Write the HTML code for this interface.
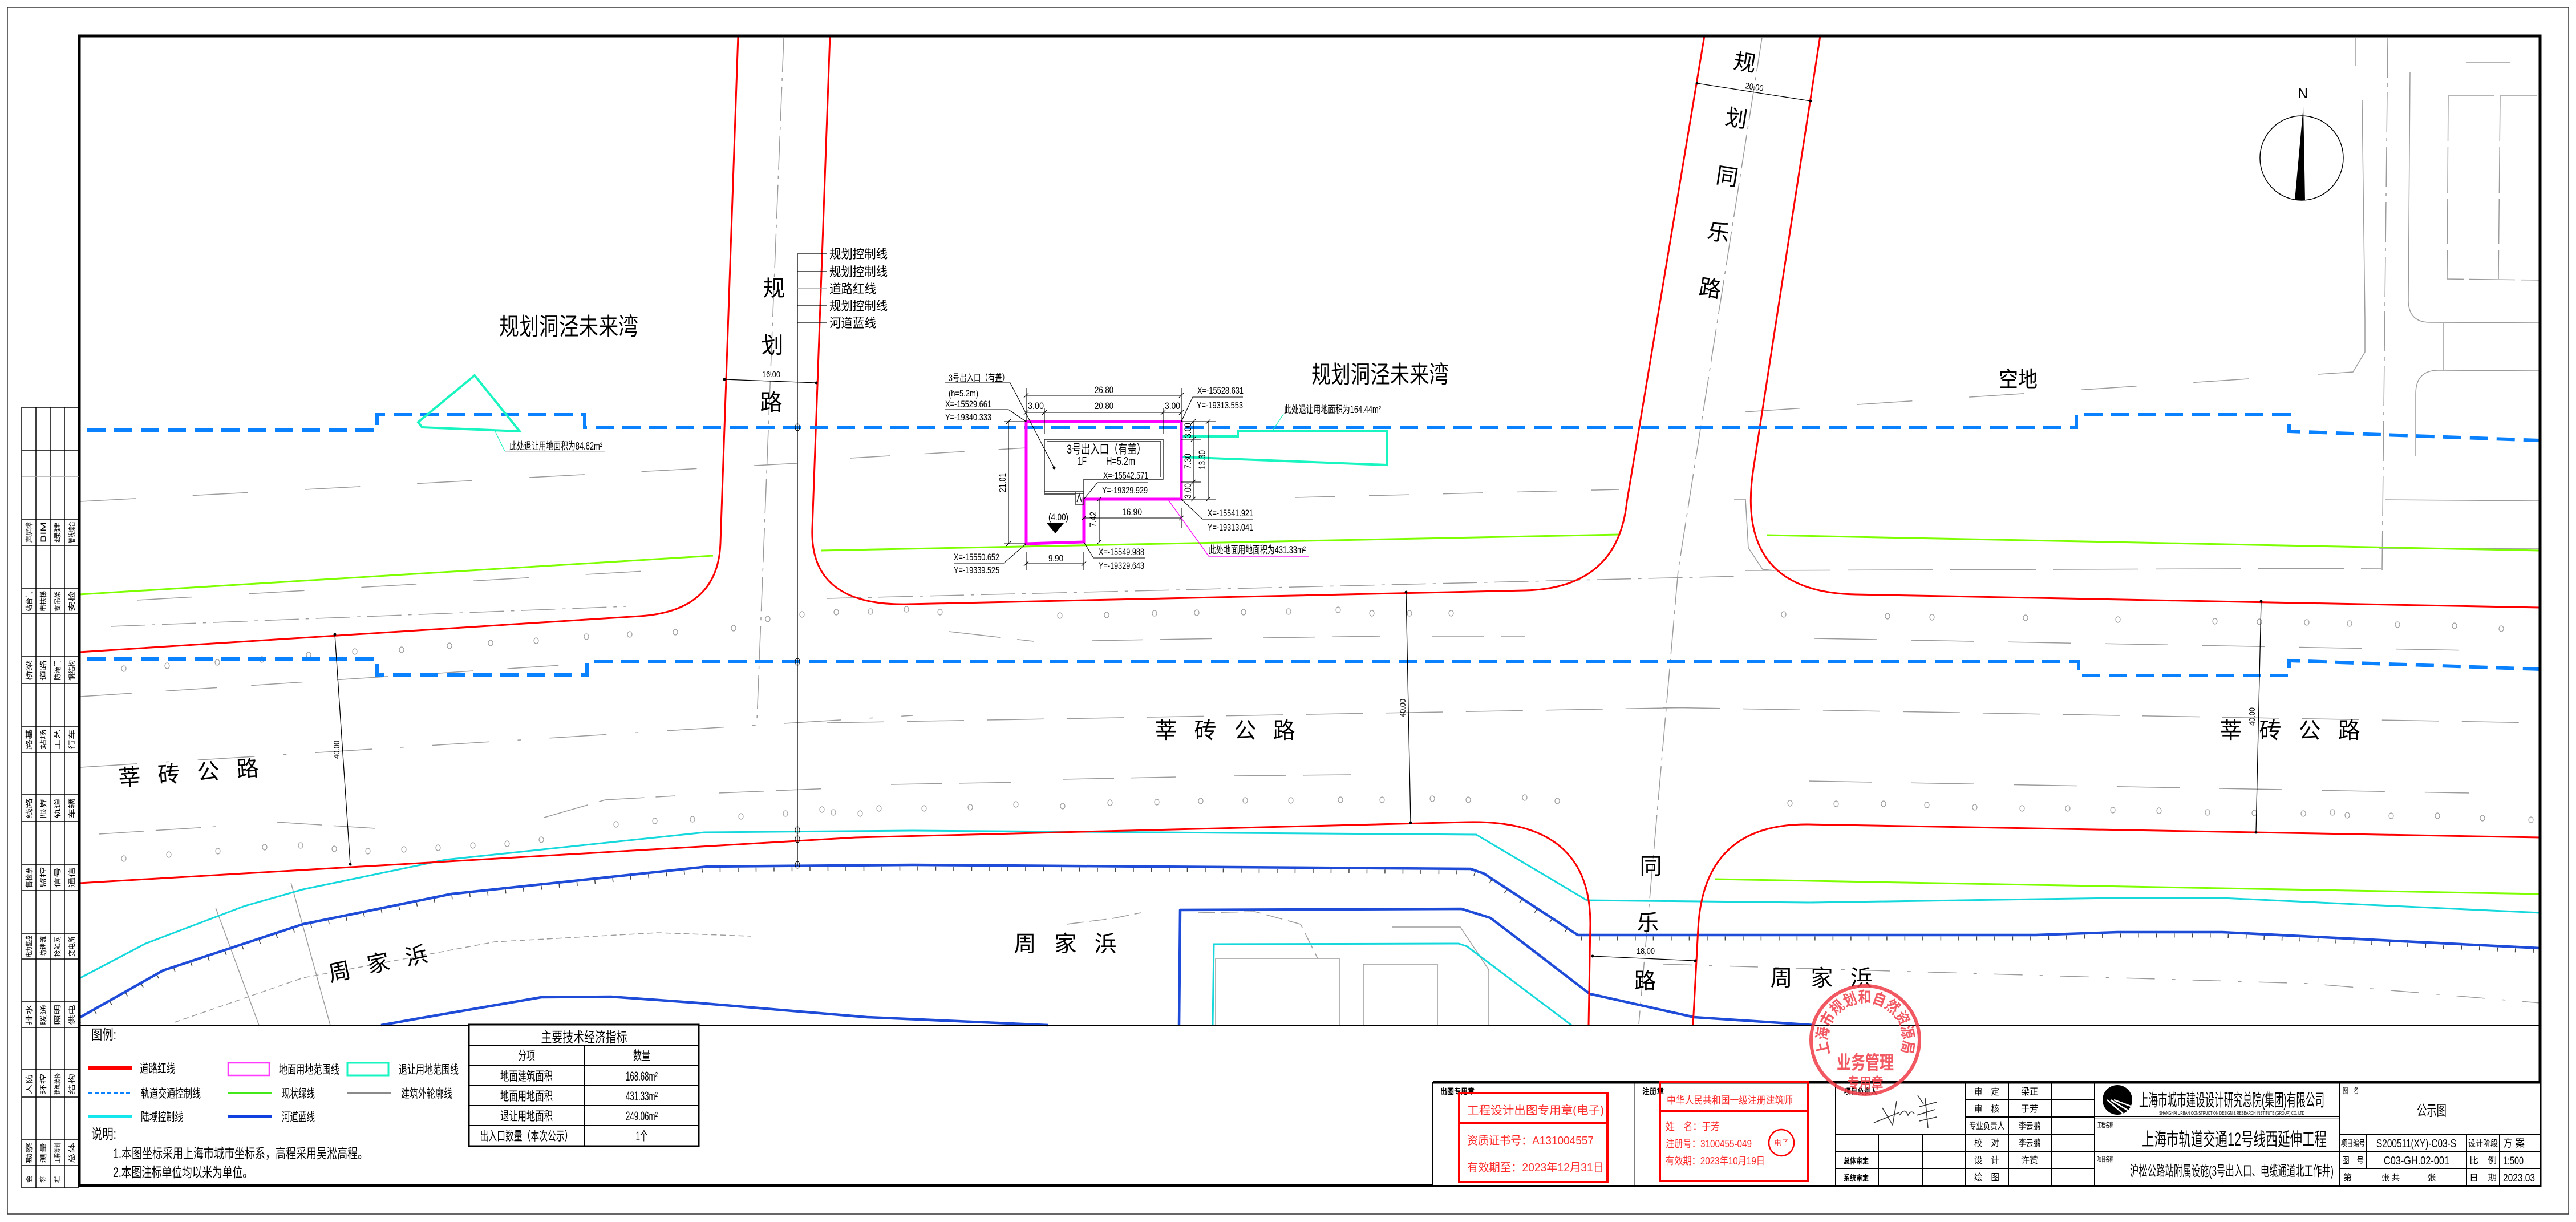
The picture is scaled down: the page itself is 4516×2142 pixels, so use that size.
<!DOCTYPE html>
<html><head><meta charset="utf-8">
<style>
html,body{margin:0;padding:0;background:#fff;}
svg{display:block;}
text{font-family:"Liberation Sans","Noto Sans CJK SC",sans-serif;fill:#000;}
</style></head><body>
<svg width="4516" height="2142" viewBox="0 0 4516 2142" xmlns="http://www.w3.org/2000/svg">
<rect width="4516" height="2142" fill="#fff"/>

<!-- ===== gray background detail ===== -->
<g stroke="#9c9c9c" stroke-width="1.5" fill="none">
  <path d="M1374,66 L1327,1262" stroke-dasharray="60 10 6 10"/>
  <path d="M3089,66 L2942,1000 L2873,1795" stroke-dasharray="60 10 6 10"/>
  <path d="M141,879 L1398,812" stroke-dasharray="97 100"/>
  <path d="M240,1052 L1148,1000" stroke-dasharray="97 100"/>
  <path d="M194,1098 L1097,1063" stroke-dasharray="60 12 6 12"/>
  <path d="M1450,1049 L3050,1010" stroke-dasharray="60 12 6 12"/>
  <path d="M1491,803 L1800,785" stroke-dasharray="70 60"/>
  <path d="M2270,872 L2838,858" stroke-dasharray="70 60"/>
  <path d="M3059,722 L3957,663" stroke-dasharray="97 100"/>
  <path d="M3059,1000 L4174,996" stroke-dasharray="150 30"/>
  <path d="M141,1221 L1029,1163" stroke-dasharray="90 60"/>
  <path d="M1664,1107 L1812,1124 M1914,1123 L2144,1119 M2215,1118 L2419,1115 M2511,1115 L2674,1115" stroke-dasharray="90 30"/>
  <path d="M3181,1119 L4334,1140" stroke-dasharray="110 60"/>
  <path d="M141,1345 L1600,1254" stroke-dasharray="100 50 6 50"/>
  <path d="M1450,1267 L2980,1240" stroke-dasharray="100 40"/>
  <path d="M2916,1240 L4453,1267" stroke-dasharray="100 40"/>
  <path d="M173,1462 L378,1449 M485,1441 L658,1452 M954,1433 L1061,1402 L1184,1395 M1260,1390 L1454,1382" stroke-dasharray="80 20"/>
  <path d="M1562,1375 L1792,1371 M1863,1366 L2062,1362 M2164,1360 L2368,1358" stroke-dasharray="90 30"/>
  <path d="M3171,1369 L4329,1390" stroke-dasharray="110 70"/>
  <path d="M306,1792 L531,1714 L867,1651 L1153,1635 L1316,1641" stroke-dasharray="10 6"/>
  <path d="M2916,1690 L4049,1724 L4453,1758" stroke-dasharray="50 30 6 30"/>
  <path d="M378,1591 L454,1797 M510,1547 L579,1797"/>
  <path d="M2131,1797 L2131,1680 L2348,1680 L2348,1797 M2390,1797 L2390,1690 L2520,1690 L2520,1797 M2440,1625 L2560,1625 L2610,1700 L2610,1797"/>
  <path d="M1870,1620 L1950,1610 L2000,1600 M2100,1600 L2200,1598 L2280,1620 L2310,1680" stroke-dasharray="30 10"/>
  <path d="M4186,66 L4176,1000" stroke-dasharray="70 10 6 10"/>
  <path d="M4130,66 L4130,115 M4141,175 L4146,560 L4146,617 L4125,652 L4064,656"/>
  <path d="M4292,168 L4447,168 M4292,168 L4290,489 L4452,491 M4383,168 L4380,489" stroke-dasharray="80 10"/>
  <path d="M4225,126 L4222,526 Q4222,565 4260,565 L4452,566"/>
  <path d="M4324,109 L4401,109"/>
  <path d="M4284,566 L4284,649 M4452,650 L4275,649 Q4235,649 4235,690 L4235,800"/>
  <path d="M4181,876 L4452,878 M4171,961 L4452,962"/>
  <path d="M3040,875 L3060,875 L3065,960 L3090,998 L3110,1000"/>
</g>
<!-- small ovals -->
<g stroke="#9a9a9a" stroke-width="1.2" fill="none">
<ellipse cx="217" cy="1172" rx="4" ry="5"/><ellipse cx="293" cy="1167" rx="4" ry="5"/><ellipse cx="381" cy="1161" rx="4" ry="5"/><ellipse cx="459" cy="1156" rx="4" ry="5"/><ellipse cx="541" cy="1148" rx="4" ry="5"/><ellipse cx="622" cy="1142" rx="4" ry="5"/><ellipse cx="704" cy="1139" rx="4" ry="5"/><ellipse cx="788" cy="1132" rx="4" ry="5"/><ellipse cx="860" cy="1127" rx="4" ry="5"/><ellipse cx="940" cy="1123" rx="4" ry="5"/><ellipse cx="1028" cy="1116" rx="4" ry="5"/><ellipse cx="1104" cy="1112" rx="4" ry="5"/><ellipse cx="1184" cy="1108" rx="4" ry="5"/><ellipse cx="1286" cy="1101" rx="4" ry="5"/><ellipse cx="1346" cy="1085" rx="4" ry="5"/><ellipse cx="1406" cy="1077" rx="4" ry="5"/><ellipse cx="1466" cy="1073" rx="4" ry="5"/><ellipse cx="1526" cy="1072" rx="4" ry="5"/><ellipse cx="1589" cy="1068" rx="4" ry="5"/><ellipse cx="1648" cy="1073" rx="4" ry="5"/><ellipse cx="1858" cy="1079" rx="4" ry="5"/><ellipse cx="1940" cy="1078" rx="4" ry="5"/><ellipse cx="2024" cy="1075" rx="4" ry="5"/><ellipse cx="2098" cy="1074" rx="4" ry="5"/><ellipse cx="2180" cy="1073" rx="4" ry="5"/><ellipse cx="2259" cy="1072" rx="4" ry="5"/><ellipse cx="2346" cy="1069" rx="4" ry="5"/><ellipse cx="2405" cy="1075" rx="4" ry="5"/><ellipse cx="2471" cy="1075" rx="4" ry="5"/><ellipse cx="2544" cy="1075" rx="4" ry="5"/><ellipse cx="3127" cy="1077" rx="4" ry="5"/><ellipse cx="3309" cy="1080" rx="4" ry="5"/><ellipse cx="3387" cy="1082" rx="4" ry="5"/><ellipse cx="3551" cy="1083" rx="4" ry="5"/><ellipse cx="3713" cy="1086" rx="4" ry="5"/><ellipse cx="3883" cy="1089" rx="4" ry="5"/><ellipse cx="3961" cy="1090" rx="4" ry="5"/><ellipse cx="4044" cy="1091" rx="4" ry="5"/><ellipse cx="4119" cy="1093" rx="4" ry="5"/><ellipse cx="4203" cy="1095" rx="4" ry="5"/><ellipse cx="4303" cy="1097" rx="4" ry="5"/><ellipse cx="4385" cy="1102" rx="4" ry="5"/>
<ellipse cx="217" cy="1505" rx="4" ry="5"/><ellipse cx="296" cy="1498" rx="4" ry="5"/><ellipse cx="382" cy="1492" rx="4" ry="5"/><ellipse cx="464" cy="1485" rx="4" ry="5"/><ellipse cx="527" cy="1482" rx="4" ry="5"/><ellipse cx="586" cy="1488" rx="4" ry="5"/><ellipse cx="645" cy="1492" rx="4" ry="5"/><ellipse cx="708" cy="1489" rx="4" ry="5"/><ellipse cx="768" cy="1486" rx="4" ry="5"/><ellipse cx="829" cy="1482" rx="4" ry="5"/><ellipse cx="889" cy="1479" rx="4" ry="5"/><ellipse cx="949" cy="1472" rx="4" ry="5"/><ellipse cx="1080" cy="1445" rx="4" ry="5"/><ellipse cx="1148" cy="1439" rx="4" ry="5"/><ellipse cx="1214" cy="1436" rx="4" ry="5"/><ellipse cx="1299" cy="1431" rx="4" ry="5"/><ellipse cx="1377" cy="1426" rx="4" ry="5"/><ellipse cx="1441" cy="1419" rx="4" ry="5"/><ellipse cx="1461" cy="1424" rx="4" ry="5"/><ellipse cx="1508" cy="1426" rx="4" ry="5"/><ellipse cx="1541" cy="1417" rx="4" ry="5"/><ellipse cx="1620" cy="1417" rx="4" ry="5"/><ellipse cx="1701" cy="1415" rx="4" ry="5"/><ellipse cx="1781" cy="1410" rx="4" ry="5"/><ellipse cx="1863" cy="1413" rx="4" ry="5"/><ellipse cx="1946" cy="1407" rx="4" ry="5"/><ellipse cx="2028" cy="1406" rx="4" ry="5"/><ellipse cx="2105" cy="1404" rx="4" ry="5"/><ellipse cx="2183" cy="1403" rx="4" ry="5"/><ellipse cx="2263" cy="1403" rx="4" ry="5"/><ellipse cx="2350" cy="1402" rx="4" ry="5"/><ellipse cx="2423" cy="1402" rx="4" ry="5"/><ellipse cx="2511" cy="1400" rx="4" ry="5"/><ellipse cx="2574" cy="1402" rx="4" ry="5"/><ellipse cx="2673" cy="1398" rx="4" ry="5"/><ellipse cx="2730" cy="1404" rx="4" ry="5"/><ellipse cx="3138" cy="1408" rx="4" ry="5"/><ellipse cx="3219" cy="1409" rx="4" ry="5"/><ellipse cx="3302" cy="1409" rx="4" ry="5"/><ellipse cx="3378" cy="1411" rx="4" ry="5"/><ellipse cx="3462" cy="1415" rx="4" ry="5"/><ellipse cx="3545" cy="1417" rx="4" ry="5"/><ellipse cx="3625" cy="1417" rx="4" ry="5"/><ellipse cx="3704" cy="1420" rx="4" ry="5"/><ellipse cx="3785" cy="1421" rx="4" ry="5"/><ellipse cx="3870" cy="1424" rx="4" ry="5"/><ellipse cx="3952" cy="1425" rx="4" ry="5"/><ellipse cx="4038" cy="1426" rx="4" ry="5"/><ellipse cx="4089" cy="1424" rx="4" ry="5"/><ellipse cx="4115" cy="1429" rx="4" ry="5"/><ellipse cx="4192" cy="1430" rx="4" ry="5"/><ellipse cx="4273" cy="1430" rx="4" ry="5"/><ellipse cx="4352" cy="1434" rx="4" ry="5"/><ellipse cx="4437" cy="1437" rx="4" ry="5"/>
</g>

<!-- ===== colored plan lines ===== -->
<g stroke="#7dff00" stroke-width="3" fill="none">
  <path d="M139,1042 L1250,974"/>
  <path d="M1439,965 L2838,937"/>
  <path d="M3098,938 L4453,965"/>
  <path d="M3006,1541 L4453,1567"/>
</g>
<g stroke="#14d8dc" stroke-width="3" fill="none">
  <path d="M139,1715 L255,1654 L429,1588 L531,1559 L781,1507 L1235,1459 L1600,1456 L2588,1463 L2782,1578 L3171,1582 L3712,1574 L3896,1574 L4453,1600"/>
  <path d="M2126,1797 L2128,1655 L2557,1654 L2572,1659 L2755,1797"/>
</g>
<g stroke="#1e4bd8" stroke-width="4.5" fill="none" stroke-linejoin="round">
  <path d="M139,1784 L286,1701 L531,1620 L791,1567 L1240,1519 L1600,1516 L2578,1523 L2601,1531 L2766,1639 L3569,1639 L3712,1634 L3896,1634 L4453,1662"/>
  <path d="M668,1797 L735,1785 L949,1748 L1071,1747 L1224,1758 L1520,1783 L1838,1797"/>
  <path d="M2067,1797 L2069,1595 L2562,1593 L2613,1609 L2787,1742 L2970,1783 L3181,1797"/>
</g>
<path d="M139,1790 L286,1707 L531,1626 L791,1573 L1240,1525 L1600,1522 L2578,1529 L2601,1537 L2766,1645 L3569,1645 L3712,1640 L3896,1640 L4453,1668" stroke="#444" stroke-width="7" fill="none" stroke-dasharray="1.5 30"/>
<g stroke="#ff0000" stroke-width="3" fill="none">
  <path d="M1294,63 L1263,952 Q1259,1071 1122,1080 L139,1143"/>
  <path d="M2988,63 L2852,880 Q2836,1031 2674,1035 L1592,1059 Q1419,1063 1424,926 L1455,63"/>
  <path d="M3191,63 L3074,821 Q3040,1038 3253,1042 L4453,1065"/>
  <path d="M139,1548 L1500,1468 L2572,1441 Q2789,1436 2788,1620 L2785,1797"/>
  <path d="M2968,1797 L2977,1628 Q2986,1443 3171,1445 L4453,1468"/>
</g>
<g stroke="#0a82ff" stroke-width="6" fill="none" stroke-dasharray="32 15">
  <path d="M153,754 H661 V727 H1025 V749 H3640 V727 H4013 V756 L4453,772"/>
  <path d="M153,1155 H661 V1183 H1029 V1160 H3644 V1184 H4013 V1158 L4453,1173"/>
</g>

<polygon points="832,658 733,740 740,749 911,756" fill="none" stroke="#19f5c0" stroke-width="4"/>
<path d="M867,754 L885,791" stroke="#19f5c0" stroke-width="1.2" fill="none"/>
<path d="M885,791 L1061,791" stroke="#aaa" stroke-width="1" fill="none"/>
<text x="893" y="788" font-size="18" textLength="163" lengthAdjust="spacingAndGlyphs">此处退让用地面积为84.62m²</text>

<!-- ===== black thin annotation lines ===== -->
<g stroke="#000" stroke-width="1.3" fill="none">
  <path d="M1398,445 L1398,1518"/>
  <path d="M1398,445 H1449 M1398,476 H1449 M1398,536 H1449 M1398,566 H1449"/>
  <path d="M1270,665 L1431,671"/>
  <path d="M2975,146 L3174,177"/>
  <path d="M2792,1676 L2972,1684"/>
  <path d="M587,1112 L614,1515"/>
  <path d="M2465,1038 L2473,1442"/>
  <path d="M3964,1054 L3955,1459"/>
</g>
<path d="M1398,506 H1449" stroke="#999" stroke-width="1.3"/>
<g fill="#000">
  <circle cx="1270" cy="665" r="2.5"/><circle cx="1431" cy="671" r="2.5"/>
  <circle cx="2975" cy="146" r="2.5"/><circle cx="3174" cy="177" r="2.5"/>
  <circle cx="2792" cy="1676" r="2.5"/><circle cx="2972" cy="1684" r="2.5"/>
  <circle cx="587" cy="1112" r="2.5"/><circle cx="614" cy="1515" r="2.5"/>
  <circle cx="2465" cy="1038" r="2.5"/><circle cx="2473" cy="1442" r="2.5"/>
  <circle cx="3964" cy="1054" r="2.5"/><circle cx="3955" cy="1459" r="2.5"/>
</g>
<g stroke="#000" stroke-width="1" fill="none">
  <ellipse cx="1398" cy="749" rx="4" ry="6"/><ellipse cx="1398" cy="1160" rx="4" ry="6"/>
  <ellipse cx="1398" cy="1455" rx="4" ry="6"/><ellipse cx="1398" cy="1471" rx="4" ry="6"/><ellipse cx="1398" cy="1516" rx="4" ry="6"/>
</g>
<g font-size="15">
  <text x="1336" y="661" textLength="32" lengthAdjust="spacingAndGlyphs">16.00</text>
  <text transform="translate(3059,155) rotate(9)" textLength="32" lengthAdjust="spacingAndGlyphs">20.00</text>
  <text x="2869" y="1672" textLength="32" lengthAdjust="spacingAndGlyphs">18.00</text>
  <text transform="translate(595,1330) rotate(-90)" textLength="32" lengthAdjust="spacingAndGlyphs">40.00</text>
  <text transform="translate(2464,1257) rotate(-90)" textLength="32" lengthAdjust="spacingAndGlyphs">40.00</text>
  <text transform="translate(3953,1272) rotate(-90)" textLength="32" lengthAdjust="spacingAndGlyphs">40.00</text>
</g>
<g font-size="22">
  <text x="1454" y="453" textLength="102" lengthAdjust="spacingAndGlyphs">规划控制线</text>
  <text x="1454" y="484" textLength="102" lengthAdjust="spacingAndGlyphs">规划控制线</text>
  <text x="1454" y="514" textLength="82" lengthAdjust="spacingAndGlyphs">道路红线</text>
  <text x="1454" y="544" textLength="102" lengthAdjust="spacingAndGlyphs">规划控制线</text>
  <text x="1454" y="574" textLength="82" lengthAdjust="spacingAndGlyphs">河道蓝线</text>
</g>

<!-- ===== entrance detail ===== -->
<polygon points="2071,801 2071,765 2170,765 2170,756 2431,756 2431,815" fill="none" stroke="#19f5c0" stroke-width="4"/>
<path d="M1799,739 L2071,739 L2071,875 L1900,875 L1900,950 L1799,953 Z" fill="none" stroke="#ff00ff" stroke-width="5"/>
<g stroke="#222" stroke-width="1.4" fill="none">
  <path d="M1831,770 H2039 V840 H1900 V865 H1831 Z"/>
  <path d="M1835,774 H2035 V836"/>
  <path d="M1831,862 H1885 M1831,867 H1885"/>
  <rect x="1885" y="862" width="15" height="22"/>
  <path d="M1888,880 L1892,866 L1896,880"/>
</g>
<g stroke="#000" stroke-width="1.1" fill="none">
  <path d="M1799,680 V739 M2071,680 V739 M1799,693 H2071 M1799,723 H2071 M1831,716 V760 M2039,716 V760"/>
  <path d="M1795,697 L1803,689 M2067,697 L2075,689 M1795,727 L1803,719 M1827,727 L1835,719 M2035,727 L2043,719 M2067,727 L2075,719"/>
  <path d="M1760,739 H1799 M1760,953 H1799 M1768,739 V953 M1764,743 L1772,735 M1764,957 L1772,949"/>
  <path d="M2071,739 H2131 M2071,770 H2105 M2071,845 H2105 M2071,875 H2131 M2092,739 V875 M2118,739 V875"/>
  <path d="M2088,743 L2096,735 M2088,774 L2096,766 M2088,849 L2096,841 M2088,879 L2096,871 M2114,743 L2122,735 M2114,879 L2122,871"/>
  <path d="M1900,908 H2071 M2071,890 V925 M1927,875 V950 M1799,988 H1900 M1799,968 V1000 M1900,968 V1000"/>
  <path d="M1896,912 L1904,904 M2067,912 L2075,904 M1923,879 L1931,871 M1923,954 L1931,946 M1795,992 L1803,984 M1896,992 L1904,984"/>
  <path d="M1657,671 H1771 L1848,820"/>
  <path d="M1657,718 H1768 L1799,739"/>
  <path d="M2179,696 H2091 L2071,739"/>
  <path d="M2071,875 L2108,910 H2197"/>
  <path d="M1672,987 H1760 L1799,953"/>
  <path d="M1900,950 L1917,978 H2008"/>
  <path d="M1900,875 L1924,846 H2012"/>
</g>
<circle cx="1848" cy="820" r="2.5" fill="#000"/>
<path d="M2048,876 L2119,975 H2295" stroke="#ff00ff" stroke-width="1.3" fill="none"/>
<path d="M2250,726 L2230,756" stroke="#19f5c0" stroke-width="1.2" fill="none"/>
<polygon points="1835,917 1865,917 1850,935" fill="#000"/>
<g font-size="17">
  <text x="1919" y="689" textLength="33" lengthAdjust="spacingAndGlyphs">26.80</text>
  <text x="1802" y="717" textLength="28" lengthAdjust="spacingAndGlyphs">3.00</text>
  <text x="1919" y="717" textLength="33" lengthAdjust="spacingAndGlyphs">20.80</text>
  <text x="2042" y="717" textLength="27" lengthAdjust="spacingAndGlyphs">3.00</text>
  <text transform="translate(1763,863) rotate(-90)" textLength="34" lengthAdjust="spacingAndGlyphs">21.01</text>
  <text transform="translate(2088,768) rotate(-90)" textLength="27" lengthAdjust="spacingAndGlyphs">3.00</text>
  <text transform="translate(2088,822) rotate(-90)" textLength="27" lengthAdjust="spacingAndGlyphs">7.30</text>
  <text transform="translate(2088,874) rotate(-90)" textLength="27" lengthAdjust="spacingAndGlyphs">3.00</text>
  <text transform="translate(2113,823) rotate(-90)" textLength="34" lengthAdjust="spacingAndGlyphs">13.30</text>
  <text x="1967" y="903" textLength="35" lengthAdjust="spacingAndGlyphs">16.90</text>
  <text transform="translate(1922,924) rotate(-90)" textLength="27" lengthAdjust="spacingAndGlyphs">7.42</text>
  <text x="1838" y="984" textLength="26" lengthAdjust="spacingAndGlyphs">9.90</text>
  <text x="1838" y="912" textLength="35" lengthAdjust="spacingAndGlyphs">(4.00)</text>
  <text x="1663" y="668" textLength="106" lengthAdjust="spacingAndGlyphs">3号出入口（有盖）</text>
  <text x="1663" y="695" textLength="52" lengthAdjust="spacingAndGlyphs">(h=5.2m)</text>
  <text x="1657" y="714" textLength="81" lengthAdjust="spacingAndGlyphs">X=-15529.661</text>
  <text x="1657" y="737" textLength="81" lengthAdjust="spacingAndGlyphs">Y=-19340.333</text>
  <text x="2099" y="690" textLength="81" lengthAdjust="spacingAndGlyphs">X=-15528.631</text>
  <text x="2098" y="716" textLength="81" lengthAdjust="spacingAndGlyphs">Y=-19313.553</text>
  <text x="2117" y="905" textLength="80" lengthAdjust="spacingAndGlyphs">X=-15541.921</text>
  <text x="2117" y="930" textLength="80" lengthAdjust="spacingAndGlyphs">Y=-19313.041</text>
  <text x="1672" y="982" textLength="80" lengthAdjust="spacingAndGlyphs">X=-15550.652</text>
  <text x="1672" y="1005" textLength="80" lengthAdjust="spacingAndGlyphs">Y=-19339.525</text>
  <text x="1926" y="973" textLength="80" lengthAdjust="spacingAndGlyphs">X=-15549.988</text>
  <text x="1926" y="997" textLength="80" lengthAdjust="spacingAndGlyphs">Y=-19329.643</text>
  <text x="1934" y="839" textLength="79" lengthAdjust="spacingAndGlyphs">X=-15542.571</text>
  <text x="1932" y="865" textLength="80" lengthAdjust="spacingAndGlyphs">Y=-19329.929</text>
</g>
<g font-size="18">
  <text x="2251" y="724" textLength="170" lengthAdjust="spacingAndGlyphs">此处退让用地面积为164.44m²</text>
  <text x="2119" y="970" textLength="170" lengthAdjust="spacingAndGlyphs">此处地面用地面积为431.33m²</text>
</g>
<text x="1870" y="795" font-size="22" textLength="139" lengthAdjust="spacingAndGlyphs">3号出入口（有盖）</text>
<text x="1889" y="815" font-size="20" textLength="16" lengthAdjust="spacingAndGlyphs">1F</text>
<text x="1939" y="815" font-size="20" textLength="51" lengthAdjust="spacingAndGlyphs">H=5.2m</text>

<!-- ===== big labels ===== -->
<text x="875" y="587" font-size="42" textLength="244" lengthAdjust="spacingAndGlyphs">规划洞泾未来湾</text>
<text x="2299" y="671" font-size="42" textLength="241" lengthAdjust="spacingAndGlyphs">规划洞泾未来湾</text>
<text x="3504" y="678" font-size="38" textLength="68" lengthAdjust="spacingAndGlyphs">空地</text>
<g font-size="39" text-anchor="middle">
  <text x="1357" y="519">规</text><text x="1354" y="619">划</text><text x="1352" y="719">路</text>
  <text transform="translate(3059,109) rotate(9)" y="14">规</text>
  <text transform="translate(3044,207) rotate(9)" y="14">划</text>
  <text transform="translate(3028,309) rotate(9)" y="14">同</text>
  <text transform="translate(3013,407) rotate(9)" y="14">乐</text>
  <text transform="translate(2998,505) rotate(9)" y="14">路</text>
  <text transform="translate(227,1362) rotate(-4)" y="14">莘</text>
  <text transform="translate(296,1357) rotate(-4)" y="14">砖</text>
  <text transform="translate(365,1352) rotate(-4)" y="14">公</text>
  <text transform="translate(434,1347) rotate(-4)" y="14">路</text>
  <text x="2044" y="1294">莘</text><text x="2113" y="1294">砖</text><text x="2183" y="1294">公</text><text x="2251" y="1294">路</text>
  <text x="3911" y="1294">莘</text><text x="3980" y="1294">砖</text><text x="4049" y="1294">公</text><text x="4118" y="1294">路</text>
  <text transform="translate(595,1703) rotate(-12)" y="14">周</text>
  <text transform="translate(663,1688) rotate(-12)" y="14">家</text>
  <text transform="translate(730,1675) rotate(-12)" y="14">浜</text>
  <text x="1797" y="1668">周</text><text x="1868" y="1668">家</text><text x="1938" y="1668">浜</text>
  <text x="3123" y="1728">周</text><text x="3194" y="1728">家</text><text x="3263" y="1728">浜</text>
  <text x="2894" y="1532">同</text><text x="2889" y="1631">乐</text><text x="2884" y="1733">路</text>
</g>

<ellipse cx="4035" cy="277" rx="73" ry="74" fill="none" stroke="#000" stroke-width="1.5"/>
<polygon points="4038,186 4041,351 4023,351" fill="#000"/>
<text x="4028" y="172" font-size="26" textLength="18" lengthAdjust="spacingAndGlyphs">N</text>

<!-- ===== frames ===== -->
<rect x="13" y="13" width="4490" height="2115" fill="none" stroke="#333" stroke-width="1.5"/>
<rect x="139" y="63" width="4314" height="2015" fill="none" stroke="#000" stroke-width="5"/>
<path d="M139,1797 H4453" stroke="#000" stroke-width="2"/>

<!-- left margin table -->
<g stroke="#000" stroke-width="1.5" fill="none">
  <path d="M38,714 H139 M38,714 V2082 H139 M63,714 V2082 M88,714 V2082 M113,714 V2082"/>
  <path d="M38,789 H139 M38,910 H139 M38,956 H139 M38,1031 H139 M38,1076 H139 M38,1151 H139 M38,1198 H139 M38,1273 H139 M38,1319 H139 M38,1393 H139 M38,1440 H139 M38,1515 H139 M38,1561 H139 M38,1636 H139 M38,1681 H139 M38,1756 H139 M38,1801 H139 M38,1875 H139 M38,1923 H139 M38,1997 H139 M38,2043 H139"/>
</g>
<path d="M38,835 H139" stroke="#aaa" stroke-width="1.5"/>
<g font-size="12" text-anchor="middle">
  <text transform="translate(55,933) rotate(-90)" textLength="36" lengthAdjust="spacingAndGlyphs">声屏障</text>
  <text transform="translate(80,933) rotate(-90)" textLength="36" lengthAdjust="spacingAndGlyphs">BIM</text>
  <text transform="translate(105,933) rotate(-90)" textLength="36" lengthAdjust="spacingAndGlyphs">绿建</text>
  <text transform="translate(130,933) rotate(-90)" textLength="38" lengthAdjust="spacingAndGlyphs">管线综合</text>
  <text transform="translate(55,1054) rotate(-90)" textLength="36" lengthAdjust="spacingAndGlyphs">站台门</text>
  <text transform="translate(80,1054) rotate(-90)" textLength="36" lengthAdjust="spacingAndGlyphs">电扶梯</text>
  <text transform="translate(105,1054) rotate(-90)" textLength="36" lengthAdjust="spacingAndGlyphs">支吊架</text>
  <text transform="translate(130,1054) rotate(-90)" textLength="36" lengthAdjust="spacingAndGlyphs">安检</text>
  <text transform="translate(55,1175) rotate(-90)" textLength="36" lengthAdjust="spacingAndGlyphs">桥梁</text>
  <text transform="translate(80,1175) rotate(-90)" textLength="36" lengthAdjust="spacingAndGlyphs">道路</text>
  <text transform="translate(105,1175) rotate(-90)" textLength="36" lengthAdjust="spacingAndGlyphs">防淹门</text>
  <text transform="translate(130,1175) rotate(-90)" textLength="36" lengthAdjust="spacingAndGlyphs">钢结构</text>
  <text transform="translate(55,1296) rotate(-90)" textLength="36" lengthAdjust="spacingAndGlyphs">路基</text>
  <text transform="translate(80,1296) rotate(-90)" textLength="36" lengthAdjust="spacingAndGlyphs">站场</text>
  <text transform="translate(105,1296) rotate(-90)" textLength="36" lengthAdjust="spacingAndGlyphs">工艺</text>
  <text transform="translate(130,1296) rotate(-90)" textLength="36" lengthAdjust="spacingAndGlyphs">行车</text>
  <text transform="translate(55,1417) rotate(-90)" textLength="36" lengthAdjust="spacingAndGlyphs">线路</text>
  <text transform="translate(80,1417) rotate(-90)" textLength="36" lengthAdjust="spacingAndGlyphs">限界</text>
  <text transform="translate(105,1417) rotate(-90)" textLength="36" lengthAdjust="spacingAndGlyphs">轨道</text>
  <text transform="translate(130,1417) rotate(-90)" textLength="36" lengthAdjust="spacingAndGlyphs">车辆</text>
  <text transform="translate(55,1538) rotate(-90)" textLength="36" lengthAdjust="spacingAndGlyphs">售检票</text>
  <text transform="translate(80,1538) rotate(-90)" textLength="36" lengthAdjust="spacingAndGlyphs">监控</text>
  <text transform="translate(105,1538) rotate(-90)" textLength="36" lengthAdjust="spacingAndGlyphs">信号</text>
  <text transform="translate(130,1538) rotate(-90)" textLength="36" lengthAdjust="spacingAndGlyphs">通信</text>
  <text transform="translate(55,1659) rotate(-90)" textLength="38" lengthAdjust="spacingAndGlyphs">电力监控</text>
  <text transform="translate(80,1659) rotate(-90)" textLength="36" lengthAdjust="spacingAndGlyphs">防迷流</text>
  <text transform="translate(105,1659) rotate(-90)" textLength="36" lengthAdjust="spacingAndGlyphs">接触网</text>
  <text transform="translate(130,1659) rotate(-90)" textLength="36" lengthAdjust="spacingAndGlyphs">变电所</text>
  <text transform="translate(55,1779) rotate(-90)" textLength="36" lengthAdjust="spacingAndGlyphs">排水</text>
  <text transform="translate(80,1779) rotate(-90)" textLength="36" lengthAdjust="spacingAndGlyphs">暖通</text>
  <text transform="translate(105,1779) rotate(-90)" textLength="36" lengthAdjust="spacingAndGlyphs">照明</text>
  <text transform="translate(130,1779) rotate(-90)" textLength="36" lengthAdjust="spacingAndGlyphs">供电</text>
  <text transform="translate(55,1900) rotate(-90)" textLength="36" lengthAdjust="spacingAndGlyphs">人防</text>
  <text transform="translate(80,1900) rotate(-90)" textLength="36" lengthAdjust="spacingAndGlyphs">环控</text>
  <text transform="translate(105,1900) rotate(-90)" textLength="38" lengthAdjust="spacingAndGlyphs">建筑装修</text>
  <text transform="translate(130,1900) rotate(-90)" textLength="36" lengthAdjust="spacingAndGlyphs">结构</text>
  <text transform="translate(55,2021) rotate(-90)" textLength="36" lengthAdjust="spacingAndGlyphs">勘察</text>
  <text transform="translate(80,2021) rotate(-90)" textLength="36" lengthAdjust="spacingAndGlyphs">测量</text>
  <text transform="translate(105,2021) rotate(-90)" textLength="36" lengthAdjust="spacingAndGlyphs">工程筹划</text>
  <text transform="translate(130,2021) rotate(-90)" textLength="36" lengthAdjust="spacingAndGlyphs">总体</text>
  <text transform="translate(55,2067) rotate(-90)">会</text>
  <text transform="translate(80,2067) rotate(-90)">签</text>
  <text transform="translate(105,2067) rotate(-90)">栏</text>
</g>

<!-- ===== legend ===== -->
<text x="160" y="1822" font-size="24" textLength="44" lengthAdjust="spacingAndGlyphs">图例:</text>
<rect x="155" y="1869" width="76" height="6" fill="#ff0000"/>
<rect x="400" y="1863" width="72" height="22" fill="none" stroke="#ff3cff" stroke-width="2.5"/>
<rect x="609" y="1863" width="72" height="22" fill="none" stroke="#19f5c0" stroke-width="3"/>
<path d="M155,1916 H231" stroke="#0a82ff" stroke-width="4" stroke-dasharray="7 4"/>
<path d="M400,1916 H476" stroke="#43e81a" stroke-width="4"/>
<path d="M609,1916 H686" stroke="#8a8a8a" stroke-width="3"/>
<path d="M155,1957 H231" stroke="#14e6ee" stroke-width="4"/>
<path d="M400,1957 H476" stroke="#1040e0" stroke-width="4"/>
<g font-size="21">
  <text x="245" y="1880" textLength="62" lengthAdjust="spacingAndGlyphs">道路红线</text>
  <text x="489" y="1882" textLength="106" lengthAdjust="spacingAndGlyphs">地面用地范围线</text>
  <text x="699" y="1882" textLength="105" lengthAdjust="spacingAndGlyphs">退让用地范围线</text>
  <text x="247" y="1924" textLength="105" lengthAdjust="spacingAndGlyphs">轨道交通控制线</text>
  <text x="494" y="1924" textLength="58" lengthAdjust="spacingAndGlyphs">现状绿线</text>
  <text x="703" y="1924" textLength="90" lengthAdjust="spacingAndGlyphs">建筑外轮廓线</text>
  <text x="247" y="1965" textLength="74" lengthAdjust="spacingAndGlyphs">陆域控制线</text>
  <text x="494" y="1965" textLength="58" lengthAdjust="spacingAndGlyphs">河道蓝线</text>
</g>
<text x="160" y="1996" font-size="24" textLength="44" lengthAdjust="spacingAndGlyphs">说明:</text>
<text x="198" y="2030" font-size="24" textLength="447" lengthAdjust="spacingAndGlyphs">1.本图坐标采用上海市城市坐标系，高程采用吴淞高程。</text>
<text x="198" y="2063" font-size="24" textLength="245" lengthAdjust="spacingAndGlyphs">2.本图注标单位均以米为单位。</text>

<rect x="822" y="1796" width="403" height="213" fill="#fff" stroke="#000" stroke-width="3"/>
<g stroke="#000" stroke-width="2" fill="none">
  <path d="M822,1832 H1225 M822,1867 H1225 M822,1902 H1225 M822,1938 H1225 M822,1973 H1225 M1024,1832 V2009"/>
</g>
<g font-size="22" text-anchor="middle">
  <text x="1024" y="1827" font-size="25" textLength="151" lengthAdjust="spacingAndGlyphs">主要技术经济指标</text>
  <text x="923" y="1858" textLength="30" lengthAdjust="spacingAndGlyphs">分项</text>
  <text x="1125" y="1858" textLength="30" lengthAdjust="spacingAndGlyphs">数量</text>
  <text x="923" y="1894" textLength="92" lengthAdjust="spacingAndGlyphs">地面建筑面积</text>
  <text x="1125" y="1894" textLength="56" lengthAdjust="spacingAndGlyphs">168.68m²</text>
  <text x="923" y="1929" textLength="92" lengthAdjust="spacingAndGlyphs">地面用地面积</text>
  <text x="1125" y="1929" textLength="56" lengthAdjust="spacingAndGlyphs">431.33m²</text>
  <text x="923" y="1964" textLength="92" lengthAdjust="spacingAndGlyphs">退让用地面积</text>
  <text x="1125" y="1964" textLength="56" lengthAdjust="spacingAndGlyphs">249.06m²</text>
  <text x="923" y="1999" textLength="163" lengthAdjust="spacingAndGlyphs">出入口数量（本次公示）</text>
  <text x="1125" y="1999" textLength="21" lengthAdjust="spacingAndGlyphs">1个</text>
</g>

<!-- ===== title block ===== -->
<rect x="2512" y="1897" width="1941" height="181" fill="#fff"/>
<g stroke="#000" fill="none">
  <path d="M2512,1897 H4453" stroke-width="5"/>
  <path d="M2512,1897 V2078" stroke-width="2"/>
  <path d="M2866,1897 V2078" stroke-width="1"/>
  <path d="M3218,1897 V2078 M3445,1897 V2078 M3521,1897 V2078 M3596,1897 V2078 M3672,1897 V2078 M4101,1897 V2078" stroke-width="2"/>
  <path d="M3293,1988 V2078 M3370,1988 V2078 M4149,1988 V2048 M4324,1988 V2078 M4382,1988 V2078" stroke-width="2"/>
  <path d="M3218,1988 H3445 M3218,2018 H3445 M3218,2048 H3445" stroke-width="2"/>
  <path d="M3445,1928 H3672 M3445,1958 H3672 M3445,1988 H3672 M3445,2018 H3672 M3445,2048 H3672" stroke-width="2"/>
  <path d="M3672,1957 H4101 M3672,2018 H4101" stroke-width="2"/>
  <path d="M3672,1961 H4101" stroke-width="1" stroke="#888"/>
  <path d="M4101,1988 H4453 M4101,2018 H4453 M4101,2048 H4453" stroke-width="2"/>
</g>
<g font-size="14" font-weight="bold">
  <text x="2525" y="1918" textLength="60" lengthAdjust="spacingAndGlyphs">出图专用章</text>
  <text x="2879" y="1918" textLength="38" lengthAdjust="spacingAndGlyphs">注册章</text>
  <text x="3233" y="1918" textLength="58" lengthAdjust="spacingAndGlyphs">项目负责人</text>
  <text x="3232" y="2040" textLength="44" lengthAdjust="spacingAndGlyphs">总体审定</text>
  <text x="3232" y="2070" textLength="44" lengthAdjust="spacingAndGlyphs">系统审定</text>
</g>
<g stroke="#ff0000" fill="none">
  <rect x="2558" y="1916" width="260" height="156" stroke-width="4"/>
  <path d="M2558,1968 H2818" stroke-width="4"/>
  <rect x="2910" y="1897" width="259" height="173" stroke-width="4"/>
  <path d="M2910,1948 H3169" stroke-width="4"/>
  <ellipse cx="3123" cy="2003" rx="22" ry="23" stroke-width="2.5"/>
</g>
<g font-size="20">
  <text x="2572" y="1953" textLength="240" lengthAdjust="spacingAndGlyphs" style="fill:#ff2a2a">工程设计出图专用章(电子)</text>
  <text x="2572" y="2006" textLength="222" lengthAdjust="spacingAndGlyphs" style="fill:#ff2a2a">资质证书号：A131004557</text>
  <text x="2572" y="2053" textLength="240" lengthAdjust="spacingAndGlyphs" style="fill:#ff2a2a">有效期至：2023年12月31日</text>
  <text x="2922" y="1935" font-size="18" textLength="221" lengthAdjust="spacingAndGlyphs" style="fill:#ff2a2a">中华人民共和国一级注册建筑师</text>
  <text x="2920" y="1981" font-size="18" textLength="95" lengthAdjust="spacingAndGlyphs" style="fill:#ff2a2a">姓　名：于芳</text>
  <text x="2920" y="2011" font-size="18" textLength="151" lengthAdjust="spacingAndGlyphs" style="fill:#ff2a2a">注册号：3100455-049</text>
  <text x="2920" y="2041" font-size="18" textLength="174" lengthAdjust="spacingAndGlyphs" style="fill:#ff2a2a">有效期：2023年10月19日</text>
  <text x="3123" y="2008" font-size="13" text-anchor="middle" style="fill:#ff2a2a">电子</text>
</g>
<g stroke="#333" stroke-width="1.5" fill="none">
  <path d="M3285,1968 L3330,1950 M3300,1942 L3318,1972 L3325,1930 M3330,1955 Q3340,1940 3345,1955 Q3350,1945 3356,1952 M3362,1920 L3372,1935 M3365,1940 L3395,1932 M3360,1955 L3392,1945 M3375,1925 L3380,1977 M3365,1965 L3395,1958"/>
</g>
<g font-size="16" text-anchor="middle">
  <text x="3483" y="1919" textLength="44" lengthAdjust="spacingAndGlyphs">审　定</text>
  <text x="3483" y="1949" textLength="44" lengthAdjust="spacingAndGlyphs">审　核</text>
  <text x="3483" y="1979" textLength="62" lengthAdjust="spacingAndGlyphs">专业负责人</text>
  <text x="3483" y="2009" textLength="44" lengthAdjust="spacingAndGlyphs">校　对</text>
  <text x="3483" y="2039" textLength="44" lengthAdjust="spacingAndGlyphs">设　计</text>
  <text x="3483" y="2069" textLength="44" lengthAdjust="spacingAndGlyphs">绘　图</text>
  <text x="3558" y="1919" textLength="30" lengthAdjust="spacingAndGlyphs">梁正</text>
  <text x="3558" y="1949" textLength="30" lengthAdjust="spacingAndGlyphs">于芳</text>
  <text x="3558" y="1979" textLength="38" lengthAdjust="spacingAndGlyphs">李云鹏</text>
  <text x="3558" y="2009" textLength="38" lengthAdjust="spacingAndGlyphs">李云鹏</text>
  <text x="3558" y="2039" textLength="30" lengthAdjust="spacingAndGlyphs">许赞</text>
</g>
<circle cx="3712" cy="1928" r="26" fill="#000"/>
<g stroke="#fff" stroke-width="2.5" fill="none">
  <path d="M3694,1928 L3722,1952 M3700,1928 L3733,1948 M3706,1928 L3738,1940"/>
</g>
<text x="3750" y="1939" font-size="30" textLength="325" lengthAdjust="spacingAndGlyphs">上海市城市建设设计研究总院(集团)有限公司</text>
<text x="3785" y="1954" font-size="8" textLength="255" lengthAdjust="spacingAndGlyphs">SHANGHAI URBAN CONSTRUCTION DESIGN &amp; RESEARCH INSTITUTE (GROUP) CO.,LTD</text>
<text x="3677" y="1976" font-size="12" textLength="28" lengthAdjust="spacingAndGlyphs">工程名称</text>
<text x="3755" y="2008" font-size="32" textLength="324" lengthAdjust="spacingAndGlyphs">上海市轨道交通12号线西延伸工程</text>
<text x="3677" y="2036" font-size="12" textLength="28" lengthAdjust="spacingAndGlyphs">项目名称</text>
<text x="3734" y="2061" font-size="25" textLength="357" lengthAdjust="spacingAndGlyphs">沪松公路站附属设施(3号出入口、电缆通道北工作井)</text>
<text x="4107" y="1917" font-size="14" textLength="28" lengthAdjust="spacingAndGlyphs">图　名</text>
<text x="4237" y="1956" font-size="26" textLength="52" lengthAdjust="spacingAndGlyphs">公示图</text>
<g font-size="15">
  <text x="4104" y="2009" textLength="42" lengthAdjust="spacingAndGlyphs">项目编号</text>
  <text x="4166" y="2011" font-size="20" textLength="140" lengthAdjust="spacingAndGlyphs">S200511(XY)-C03-S</text>
  <text x="4327" y="2009" textLength="52" lengthAdjust="spacingAndGlyphs">设计阶段</text>
  <text x="4388" y="2010" font-size="19" textLength="38" lengthAdjust="spacingAndGlyphs">方 案</text>
  <text x="4106" y="2039" textLength="38" lengthAdjust="spacingAndGlyphs">图　号</text>
  <text x="4179" y="2041" font-size="20" textLength="115" lengthAdjust="spacingAndGlyphs">C03-GH.02-001</text>
  <text x="4329" y="2039" textLength="48" lengthAdjust="spacingAndGlyphs">比　例</text>
  <text x="4388" y="2041" font-size="19" textLength="36" lengthAdjust="spacingAndGlyphs">1:500</text>
  <text x="4108" y="2069">第</text>
  <text x="4175" y="2069" textLength="32" lengthAdjust="spacingAndGlyphs">张 共</text>
  <text x="4255" y="2069">张</text>
  <text x="4329" y="2069" textLength="48" lengthAdjust="spacingAndGlyphs">日　期</text>
  <text x="4388" y="2071" font-size="19" textLength="56" lengthAdjust="spacingAndGlyphs">2023.03</text>
</g>

<!-- ===== official seal ===== -->
<defs><path id="sealarc" d="M3208.5,1847 A66,66 0 1,1 3331.5,1847"/></defs>
<g opacity="0.85">
  <circle cx="3270" cy="1823" r="95" fill="none" stroke="#f03c46" stroke-width="6"/>
  <text font-size="27" font-weight="bold" style="fill:#f03c46"><textPath href="#sealarc" textLength="254" lengthAdjust="spacingAndGlyphs">上海市规划和自然资源局</textPath></text>
  <text x="3270" y="1874" font-size="33" font-weight="bold" text-anchor="middle" textLength="100" lengthAdjust="spacingAndGlyphs" style="fill:#f03c46">业务管理</text>
  <text x="3270" y="1907" font-size="25" font-weight="bold" text-anchor="middle" textLength="63" lengthAdjust="spacingAndGlyphs" style="fill:#f03c46">专用章</text>
</g>
</svg>
</body></html>
